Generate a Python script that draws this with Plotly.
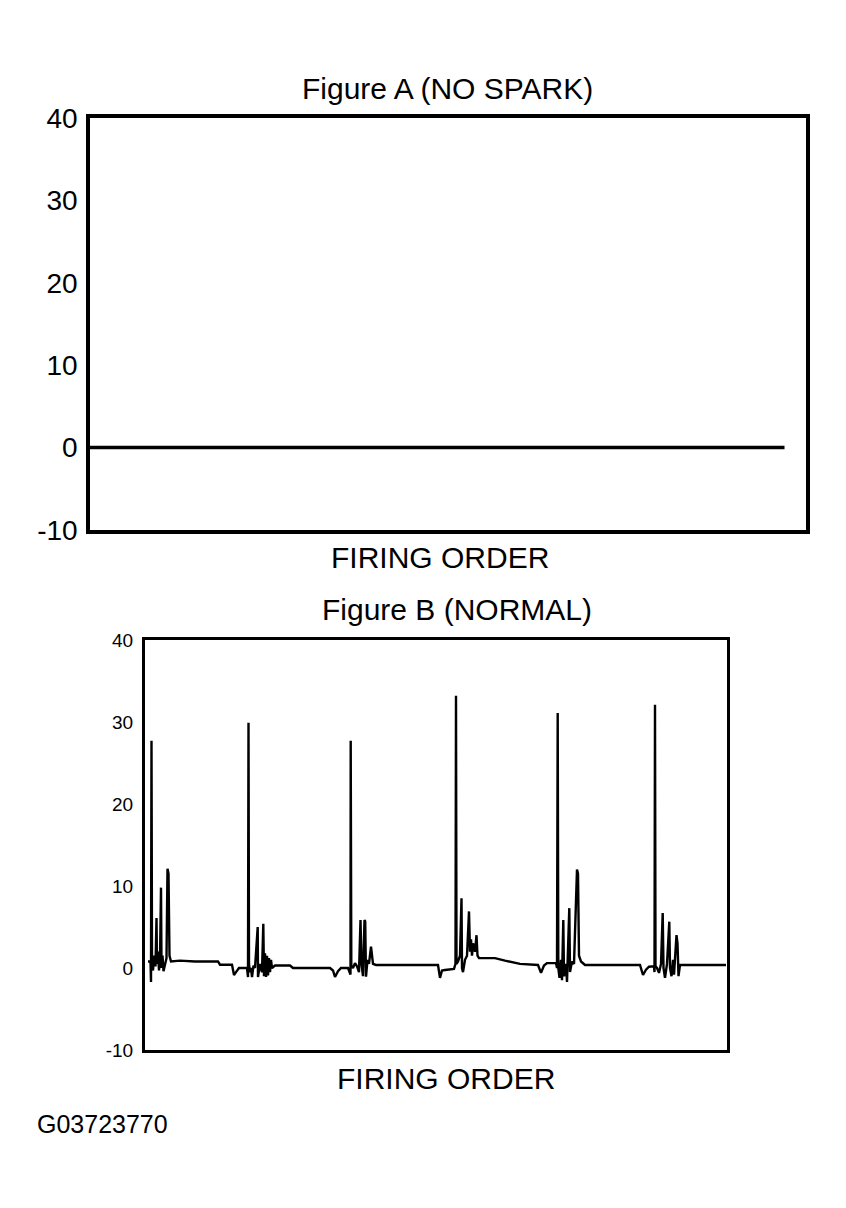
import plotly.graph_objects as go

# ---------------- data ----------------
y_ticks = [-10, 0, 10, 20, 30, 40]
y_tick_text = ["-10", "0", "10", "20", "30", "40"]

# Figure A (NO SPARK): flat trace at 0
a_time = [0, 97]
a_volts = [0, 0]

# Figure B (NORMAL): secondary ignition pattern (time units, kV)
b_time = [3, 5.5, 6, 6.5, 7, 8, 9, 10.5, 11.5, 12, 13, 14, 15, 16, 16.5, 17.5, 18.5, 20, 21.5, 22.5,
          23.5, 24.5, 26, 35, 50, 73, 75, 87, 89, 91, 94,
          97, 102, 103, 103.5, 104, 105, 106, 107, 108.5, 110, 112.7, 113, 115, 117, 118.3, 119, 120,
          121, 122, 123, 124, 125, 126, 127, 130, 145, 148, 185, 188, 190, 193, 196,
          203, 205.5, 205.7, 206.3, 208, 210, 212, 214, 215.5, 216.5, 218, 219.5, 220.2, 221, 222.5,
          224, 226, 228, 231, 260, 290, 293, 295, 297, 300,
          309, 310.5, 311, 311.5, 313, 315, 316.5, 317, 318, 320, 322, 324, 325, 326, 327, 328, 330,
          331.5, 332.5, 334, 350, 360, 375, 393, 396, 399, 402,
          411, 412, 412.7, 413.3, 414.5, 416, 417, 418.3, 419, 421, 422, 424.3, 425, 427, 429, 432,
          433, 434, 436, 440, 495, 498, 501, 504,
          509, 509.5, 510, 510.5, 512, 514, 516, 517.7, 518.5, 520, 522, 524.3, 525, 526.5, 528, 529,
          531.5, 532.5, 533.5, 535, 560, 581]
b_volts = [0.8, 0.8, -1.7, 27.7, 0.5, -0.3, 1.5, 0.2, 6.1, 0.5, 2.0, -0.3, 1.0, 9.8, 0.0, 1.5, -0.4, 0.5, 1.2, 12.1,
           11.5, 1.5, 0.8, 0.9, 0.8, 0.8, 0.4, 0.4, -0.85, -0.5, 0.0,
           0.0, 0.0, -1.1, 29.9, 0.5, -0.5, 0.0, -1.1, 0.3, 0.0, 5.0, -1.1, 0.5, -0.5, 5.4, -1.0, 1.8,
           -1.1, 1.5, -0.9, 1.2, -0.5, 1.0, 0.0, 0.3, 0.3, 0.0, 0.0, -0.3, -1.1, -0.4, 0.0,
           0.0, -0.8, 27.7, 0.3, 0.0, 0.6, 0.2, -0.5, 5.85, 0.5, -1.0, 5.85, 5.7, -1.06, 1.0,
           0.5, 2.6, 0.5, 0.37, 0.37, 0.3, 0.37, -1.2, -0.3, -0.24,
           -0.1, 0.5, 33.2, 0.5, 0.8, 1.5, 8.5, 0.0, -0.5, 1.0, 1.5, 6.9, 2.0, 3.5, 1.5, 3.0, 2.0,
           4.0, 1.5, 1.2, 1.2, 0.9, 0.5, 0.37, -0.6, 0.3, 0.6,
           0.6, 0.0, 31.1, 0.0, -1.2, 1.0, -1.5, 5.85, -1.0, 0.5, -1.7, 7.3, -0.5, 0.8, 0.5, 12.0,
           11.5, 1.5, 0.8, 0.37, 0.37, -0.85, -0.2, 0.16,
           0.2, -0.5, 32.1, 0.2, 0.0, -0.6, 0.5, 6.7, 0.0, -1.2, 0.5, 5.65, 0.0, -1.0, 1.0, -0.8,
           4.0, 3.0, -1.0, 0.37, 0.37, 0.37]

title_a = "Figure A (NO SPARK)"
title_b = "Figure B (NORMAL)"
x_label = "FIRING ORDER"
figure_id = "G03723770"

# ---------------- figure ----------------
W, H = 846, 1208
FONT = "Liberation Sans, Arial, sans-serif"


def px_x(p):
    return p / W


def px_y(p):
    return 1 - p / H


fig = go.Figure()
fig.add_trace(go.Scatter(x=a_time, y=a_volts, mode="lines",
                         line=dict(color="black", width=3.5),
                         xaxis="x", yaxis="y", showlegend=False, hoverinfo="skip"))
fig.add_trace(go.Scatter(x=b_time, y=b_volts, mode="lines",
                         line=dict(color="black", width=2.4),
                         xaxis="x2", yaxis="y2", showlegend=False, hoverinfo="skip"))

axis_common = dict(showgrid=False, zeroline=False, showline=True, mirror=True,
                   linecolor="black")

fig.update_layout(
    width=W, height=H,
    margin=dict(l=0, r=0, t=0, b=0, autoexpand=False),
    paper_bgcolor="white", plot_bgcolor="white",
    font=dict(family=FONT, color="black"),
    xaxis=dict(domain=[px_x(90), px_x(806)], range=[0, 100], showticklabels=False,
               ticks="", linewidth=3.5, anchor="y", **axis_common),
    yaxis=dict(domain=[px_y(530), px_y(118)], range=[-10, 40], tickvals=y_ticks,
               ticktext=y_tick_text, ticks="", ticklabelstandoff=3, linewidth=3.5, anchor="x",
               tickfont=dict(size=28, family=FONT, color="black"), **axis_common),
    xaxis2=dict(domain=[px_x(145), px_x(727)], range=[0, 582], showticklabels=False,
                ticks="", linewidth=3, anchor="y2", **axis_common),
    yaxis2=dict(domain=[px_y(1050), px_y(640)], range=[-10, 40], tickvals=y_ticks,
                ticktext=y_tick_text, ticks="", ticklabelstandoff=5, linewidth=3, anchor="x2",
                tickfont=dict(size=19, family=FONT, color="black"), **axis_common),
)

ann = [
    (title_a, 447, 88, 30),
    (x_label, 440, 557, 30),
    (title_b, 457, 609, 30),
    (x_label, 446, 1078, 30),
]
for text, x, y, size in ann:
    fig.add_annotation(text=text, x=px_x(x), y=px_y(y), xref="paper", yref="paper",
                       xanchor="center", yanchor="middle", showarrow=False,
                       font=dict(size=size, family=FONT, color="black"))
fig.add_annotation(text=figure_id, x=px_x(35), y=px_y(1124), xref="paper", yref="paper",
                   xanchor="left", yanchor="middle", showarrow=False,
                   font=dict(size=25, family=FONT, color="black"))

fig.write_html("out.html", config={"displayModeBar": False},
               post_script="document.body.style.margin='0';")
